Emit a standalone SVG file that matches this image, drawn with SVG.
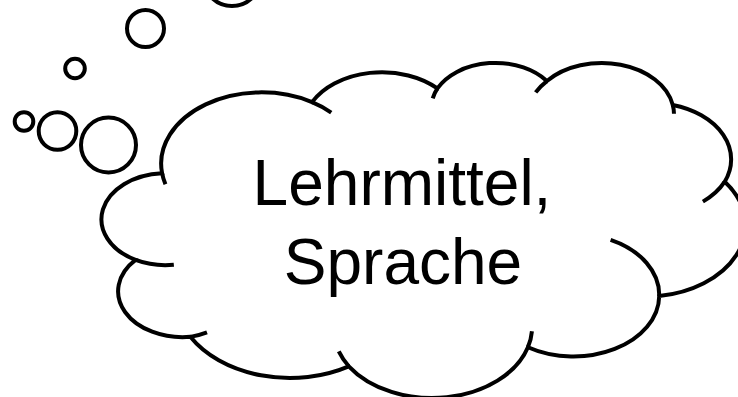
<svg xmlns="http://www.w3.org/2000/svg" width="738" height="397" viewBox="0 0 738 397">
  <style>
    .ln { fill: #ffffff; stroke: #000000; stroke-width: 4; }
    .inner { fill: none; stroke: #000000; stroke-width: 4; }
    .txt { font-family: "Liberation Sans", Arial, sans-serif; font-size: 64px; fill: #000000; text-anchor: middle; }
  </style>
  <rect width="738" height="397" fill="#ffffff"/>
  <g id="bubbles">
    <circle class="ln" cx="232" cy="-23" r="29"/>
    <circle class="ln" cx="145.5" cy="28.5" r="18.5"/>
    <circle class="ln" cx="75" cy="68.5" r="9.8"/>
    <circle class="ln" cx="24" cy="121.5" r="9.3"/>
    <circle class="ln" cx="57.5" cy="131" r="18.8"/>
    <circle class="ln" cx="108.5" cy="145" r="27.5"/>
  </g>
  <g id="cloud">
    <path class="ln" d="M 162.07 173.23 A 100.20 71.27 0 0 1 312.02 102.14 A 79.13 56.35 0 0 1 437.43 88.43 A 64.77 46.10 0 0 1 546.89 81.05 A 72.07 51.14 0 0 1 672.79 105.05 A 79.13 56.40 0 0 1 724.74 181.69 A 100.53 71.50 0 0 1 659.22 296.00 A 85.84 61.01 0 0 1 527.93 347.26 A 100.19 71.46 0 0 1 348.76 366.29 A 114.55 81.76 0 0 1 190.35 336.86 A 64.69 45.89 0 0 1 135.57 259.92 A 64.47 46.10 0 0 1 162.07 173.23 Z"/>
    <path class="inner" d="M 173.83 264.79 A 64.47 46.10 0 0 1 135.57 259.92 M 207.00 332.43 A 64.69 45.89 0 0 1 190.35 336.86 M 348.76 366.29 A 100.19 71.46 0 0 1 338.79 351.42 M 531.93 331.28 A 100.19 71.46 0 0 1 527.93 347.26 M 610.61 239.80 A 85.84 61.01 0 0 1 659.22 296.00 M 724.74 181.69 A 79.13 56.40 0 0 1 702.91 201.62 M 672.79 105.05 A 72.07 51.14 0 0 1 673.98 113.68 M 535.66 92.45 A 72.07 51.14 0 0 1 546.89 81.05 M 432.73 98.40 A 64.77 46.10 0 0 1 437.43 88.43 M 312.02 102.14 A 100.20 71.27 0 0 1 331.24 112.53 M 165.44 184.24 A 100.20 71.27 0 0 1 162.07 173.23"/>
    <text class="txt" x="402" y="205">Lehrmittel,</text>
    <text class="txt" x="403" y="284">Sprache</text>
  </g>
</svg>
